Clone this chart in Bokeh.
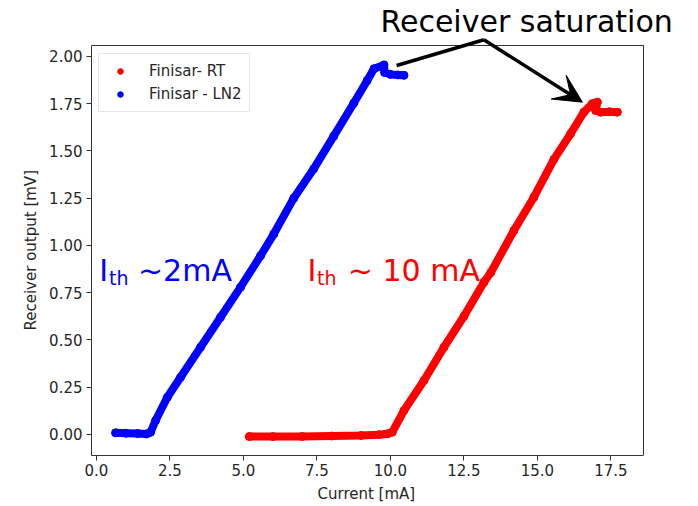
from bokeh.plotting import figure
from bokeh.models import (Range1d, FixedTicker, PrintfTickFormatter, Label, Arrow,
                          VeeHead, Legend, LegendItem, ColumnDataSource, LinearAxis,
                          Title)
from bokeh.embed import file_html
from bokeh.resources import INLINE

# ---- data ----
rt_current = [5.2, 6.0, 7.0, 8.0, 9.0, 9.6, 9.9, 10.06, 10.46, 11.14, 11.82, 12.50,
              13.18, 13.41, 14.20, 14.88, 15.56, 16.13, 16.58, 16.87, 17.04, 16.98,
              17.15, 17.45, 17.72]
rt_output = [-0.012, -0.012, -0.011, -0.009, -0.006, -0.002, 0.003, 0.011, 0.126, 0.285,
             0.461, 0.625, 0.805, 0.855, 1.079, 1.255, 1.455, 1.591, 1.705, 1.750,
             1.758, 1.714, 1.705, 1.707, 1.705]

ln2_current = [0.65, 1.0, 1.4, 1.7, 1.84, 2.01, 2.41, 2.86, 3.54, 4.22, 4.90, 5.58,
               6.03, 6.71, 7.39, 8.07, 8.75, 9.21, 9.44, 9.78, 9.80, 10.0, 10.25, 10.46]
ln2_output = [0.008, 0.006, 0.004, 0.002, 0.011, 0.073, 0.196, 0.302, 0.461, 0.620,
              0.779, 0.945, 1.060, 1.250, 1.405, 1.578, 1.752, 1.873, 1.935, 1.955,
              1.915, 1.905, 1.902, 1.900]

x_ticks = [0.0, 2.5, 5.0, 7.5, 10.0, 12.5, 15.0, 17.5]
y_ticks = [0.0, 0.25, 0.5, 0.75, 1.0, 1.25, 1.5, 1.75, 2.0]

series_names = ["Finisar- RT", "Finisar - LN2"]
title_text = "Receiver saturation"
x_label = "Current [mA]"
y_label = "Receiver output [mV]"

# axes box of the reference (data units)
X0, X1 = -0.17, 18.6
Y0, Y1 = -0.112, 2.058
X_RIGHT = 20.48        # extra room right of the box for the annotation text
Y_TOP = 2.296          # extra room above the box for the annotation text

FONT = "DejaVu Sans"
AX_COLOR = "#333333"
TXT_COLOR = "#262626"
PX_PER_Y = 188.9

p = figure(width=698, height=506, output_backend="svg", toolbar_location=None,
           x_range=Range1d(X0, X_RIGHT), y_range=Range1d(Y0, Y_TOP),
           min_border_left=91, min_border_right=0, min_border_top=0,
           min_border_bottom=51)
p.title.visible = False
p.grid.visible = False
p.outline_line_color = None
p.background_fill_color = "white"
p.border_fill_color = "white"

def style_axis(ax):
    ax.axis_line_color = AX_COLOR
    ax.major_tick_line_color = AX_COLOR
    ax.major_tick_out = 5
    ax.major_tick_in = 0
    ax.minor_tick_line_color = None
    ax.major_label_text_font = FONT
    ax.major_label_text_font_size = "15px"
    ax.major_label_text_color = TXT_COLOR

style_axis(p.xaxis[0])
style_axis(p.yaxis[0])
p.xaxis.ticker = FixedTicker(ticks=x_ticks)
p.yaxis.ticker = FixedTicker(ticks=y_ticks)
p.xaxis.formatter = PrintfTickFormatter(format="%.1f")
p.yaxis.formatter = PrintfTickFormatter(format="%.2f")
p.xaxis.major_label_standoff = 3
p.yaxis.major_label_standoff = 4
p.xaxis.bounds = (X0, X1)
p.yaxis.bounds = (Y0, Y1)

# axis titles, centred on the axes box rather than on the (larger) frame
p.add_layout(Title(text=x_label, align="left", offset=226, standoff=8,
                   text_font=FONT, text_font_size="15px", text_font_style="normal",
                   text_color=TXT_COLOR), "below")
p.add_layout(Title(text=y_label, align="left", offset=125, standoff=14,
                   text_font=FONT, text_font_size="15px", text_font_style="normal",
                   text_color=TXT_COLOR), "left")

# right spine and top spine of the box (plain axis lines, no ticks)
right_spine = LinearAxis(fixed_location=X1, bounds=(Y0, Y1), axis_line_color=AX_COLOR,
                         ticker=FixedTicker(ticks=[]), major_tick_line_color=None,
                         minor_tick_line_color=None)
p.add_layout(right_spine, "right")
top_spine = LinearAxis(fixed_location=Y1, bounds=(X0, X1), axis_line_color=AX_COLOR,
                       ticker=FixedTicker(ticks=[]), major_tick_line_color=None,
                       minor_tick_line_color=None)
p.add_layout(top_spine, "above")

src_rt = ColumnDataSource(dict(x=rt_current, y=rt_output))
src_ln = ColumnDataSource(dict(x=ln2_current, y=ln2_output))

p.line("x", "y", source=src_rt, line_width=8, line_color="#ff0000",
       line_join="round", line_cap="round")
r_rt = p.scatter("x", "y", source=src_rt, size=8, color="#ff0000")
p.line("x", "y", source=src_ln, line_width=8, line_color="#0000ff",
       line_join="round", line_cap="round")
r_ln = p.scatter("x", "y", source=src_ln, size=8, color="#0000ff")

legend = Legend(items=[LegendItem(label=series_names[0], renderers=[r_rt]),
                       LegendItem(label=series_names[1], renderers=[r_ln])],
                location=(7, 343), padding=7, spacing=3,
                glyph_width=28, glyph_height=14, label_height=20,
                label_standoff=15, label_text_font=FONT,
                label_text_font_size="15px", label_text_color=TXT_COLOR,
                border_line_color="#d0d0d0", border_line_width=1,
                background_fill_color="white", background_fill_alpha=0.8)
p.add_layout(legend)

def baseline(y, font_px):
    # compensate Bokeh's alphabetic-baseline placement
    return y + 0.37 * font_px / PX_PER_Y

# ---- annotations ----
p.add_layout(Label(x=9.66, y=baseline(2.125, 30), text=title_text, text_font=FONT,
                   text_font_size="30px", text_color="black",
                   text_baseline="alphabetic"))
p.add_layout(Arrow(x_start=13.18, y_start=2.088, x_end=10.21, y_end=1.952,
                   line_width=3.5, line_color="black", start=None, end=None))
p.add_layout(Arrow(x_start=13.18, y_start=2.088, x_end=16.53, y_end=1.758,
                   line_width=3.5, line_color="black", start=None,
                   end=VeeHead(size=28, fill_color="black", line_color="black")))

def ith_label(x_i, x_sub, x_rest, rest, color):
    p.add_layout(Label(x=x_i, y=baseline(0.809, 30), text="I", text_font=FONT,
                       text_font_size="30px", text_color=color,
                       text_baseline="alphabetic"))
    p.add_layout(Label(x=x_sub, y=baseline(0.788, 19), text="th", text_font=FONT,
                       text_font_size="19px", text_color=color,
                       text_baseline="alphabetic"))
    p.add_layout(Label(x=x_rest, y=baseline(0.809, 30), text=rest, text_font=FONT,
                       text_font_size="30px", text_color=color,
                       text_baseline="alphabetic"))

ith_label(0.095, 0.425, 1.41, "~2mA", "#0000ff")
ith_label(7.18, 7.50, 8.55, "~ 10 mA", "#ff0000")

open("out.html", "w").write(file_html(p, INLINE))
